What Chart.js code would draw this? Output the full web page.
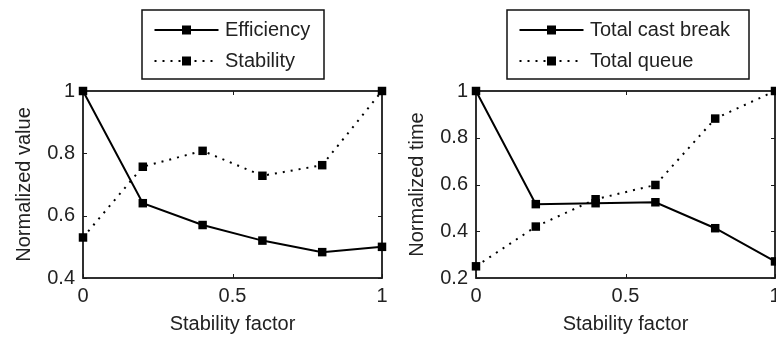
<!DOCTYPE html>
<html>
<head>
<meta charset="utf-8">
<script src="https://cdn.jsdelivr.net/npm/chart.js@4"></script>
<style>
  html, body { margin: 0; padding: 0; background: #fff; overflow: hidden; width: 776px; height: 340px; }
  canvas { position: absolute; top: 0; }
  #c1 { left: 0; }
  #c2 { left: 393px; }
</style>
</head>
<body>
<canvas id="c1" width="388" height="340"></canvas>
<canvas id="c2" width="400" height="340"></canvas>
<script>
// Sweep of the stability factor
const stabilityFactor = [0, 0.2, 0.4, 0.6, 0.8, 1];

// Left panel: normalized objective values
const efficiency = [1.0, 0.64, 0.57, 0.52, 0.483, 0.5];
const stability  = [0.53, 0.757, 0.808, 0.728, 0.762, 1.0];

// Right panel: normalized times
const totalCastBreak = [1.0, 0.516, 0.52, 0.524, 0.413, 0.271];
const totalQueue     = [0.25, 0.42, 0.537, 0.598, 0.882, 1.0];

// Tick labels
const xTicks = [0, 0.5, 1];
const leftYTicks = [0.4, 0.6, 0.8, 1];
const rightYTicks = [0.2, 0.4, 0.6, 0.8, 1];

const FONT = { family: "'Liberation Sans', Arial, sans-serif", size: 20 };
const TEXT = '#222';

// Short numeric labels: 1 rather than 1.0
const fmt = v => String(Math.round(v * 10) / 10);

function toPoints(ys) {
  return stabilityFactor.map((x, i) => ({ x: x, y: ys[i] }));
}

function series(label, ys, dotted) {
  return {
    label: label,
    data: toPoints(ys),
    borderColor: '#000',
    borderWidth: 2,
    borderDash: dotted ? [2, 6] : [],
    pointStyle: 'rect',
    pointRadius: 6,
    pointHoverRadius: 6,
    pointBackgroundColor: '#000',
    pointBorderColor: '#000',
    pointBorderWidth: 0,
    tension: 0,
    clip: false
  };
}

// Box frame with short inward tick marks on all four sides
const framePlugin = {
  id: 'frame',
  beforeDatasetsDraw(chart) {
    const { ctx, chartArea: a, scales } = chart;
    const x = scales.x, y = scales.y;
    ctx.save();
    ctx.strokeStyle = '#1a1a1a';
    ctx.lineWidth = 1;
    ctx.beginPath();
    x.ticks.forEach(t => {
      const px = Math.round(x.getPixelForValue(t.value)) + 0.5;
      ctx.moveTo(px, a.bottom); ctx.lineTo(px, a.bottom - 4);
      ctx.moveTo(px, a.top); ctx.lineTo(px, a.top + 4);
    });
    y.ticks.forEach(t => {
      const py = Math.round(y.getPixelForValue(t.value)) + 0.5;
      ctx.moveTo(a.left, py); ctx.lineTo(a.left + 4, py);
      ctx.moveTo(a.right, py); ctx.lineTo(a.right - 4, py);
    });
    ctx.stroke();
    ctx.lineWidth = 1.8;
    ctx.strokeRect(a.left, a.top, a.right - a.left, a.bottom - a.top);
    ctx.restore();
  }
};

// Boxed legend drawn from the dataset styles
const boxLegend = {
  id: 'boxLegend',
  afterDraw(chart, args, o) {
    const ctx = chart.ctx;
    ctx.save();
    ctx.lineWidth = 1.5;
    ctx.strokeStyle = '#111';
    ctx.strokeRect(o.left, o.top, o.width, o.height);
    chart.data.datasets.forEach((ds, i) => {
      const cy = o.top + o.firstRow + i * o.rowGap;
      const x0 = o.left + o.sampleStart;
      const x1 = x0 + o.sampleLength;
      ctx.setLineDash(ds.borderDash || []);
      ctx.lineWidth = ds.borderWidth;
      ctx.strokeStyle = ds.borderColor;
      ctx.beginPath();
      ctx.moveTo(x0, cy);
      ctx.lineTo(x1, cy);
      ctx.stroke();
      ctx.setLineDash([]);
      ctx.fillStyle = ds.pointBackgroundColor;
      const s = o.markerSize;
      ctx.fillRect((x0 + x1) / 2 - s / 2, cy - s / 2, s, s);
      ctx.fillStyle = TEXT;
      ctx.font = FONT.size + 'px ' + FONT.family;
      ctx.textBaseline = 'middle';
      ctx.textAlign = 'left';
      ctx.fillText(ds.label, o.left + o.textOffset, cy);
    });
    ctx.restore();
  }
};

function makeChart(id, datasets, yTicks, yTitle, padRight, legendBox) {
  return new Chart(document.getElementById(id), {
    type: 'line',
    data: { datasets: datasets },
    plugins: [framePlugin, boxLegend],
    options: {
      responsive: false,
      animation: false,
      devicePixelRatio: 1,
      layout: { padding: { top: 91, right: padRight, bottom: 0, left: 0 } },
      plugins: {
        legend: { display: false },
        tooltip: { enabled: false },
        boxLegend: Object.assign({
          top: 10, height: 69, firstRow: 20, rowGap: 31,
          sampleStart: 12.5, sampleLength: 64, markerSize: 9, textOffset: 83
        }, legendBox)
      },
      scales: {
        x: {
          type: 'linear',
          min: 0, max: 1,
          grid: { display: false, drawTicks: false },
          border: { display: false },
          afterBuildTicks: s => { s.ticks = xTicks.map(v => ({ value: v })); },
          ticks: { padding: 6, font: FONT, color: TEXT, maxRotation: 0, autoSkip: false, callback: fmt },
          title: { display: true, text: 'Stability factor', font: FONT, color: TEXT, padding: { top: 0, bottom: 4 } },
          afterFit: s => { s.height = 62; s.paddingLeft = 0; s.paddingRight = 0; }
        },
        y: {
          type: 'linear',
          min: yTicks[0], max: yTicks[yTicks.length - 1],
          grid: { display: false, drawTicks: false },
          border: { display: false },
          afterBuildTicks: s => { s.ticks = yTicks.map(v => ({ value: v })); },
          ticks: { padding: 8, font: FONT, color: TEXT, autoSkip: false, callback: fmt },
          title: { display: true, text: yTitle, font: FONT, color: TEXT, padding: { top: 12, bottom: 0 } },
          afterFit: s => { s.width = 83; s.paddingTop = 0; s.paddingBottom = 0; }
        }
      }
    }
  });
}

makeChart('c1',
  [series('Efficiency', efficiency, false), series('Stability', stability, true)],
  leftYTicks, 'Normalized value', 5,
  { left: 142, width: 182 });

makeChart('c2',
  [series('Total cast break', totalCastBreak, false), series('Total queue', totalQueue, true)],
  rightYTicks, 'Normalized time', 18,
  { left: 114, width: 242 });
</script>
</body>
</html>
